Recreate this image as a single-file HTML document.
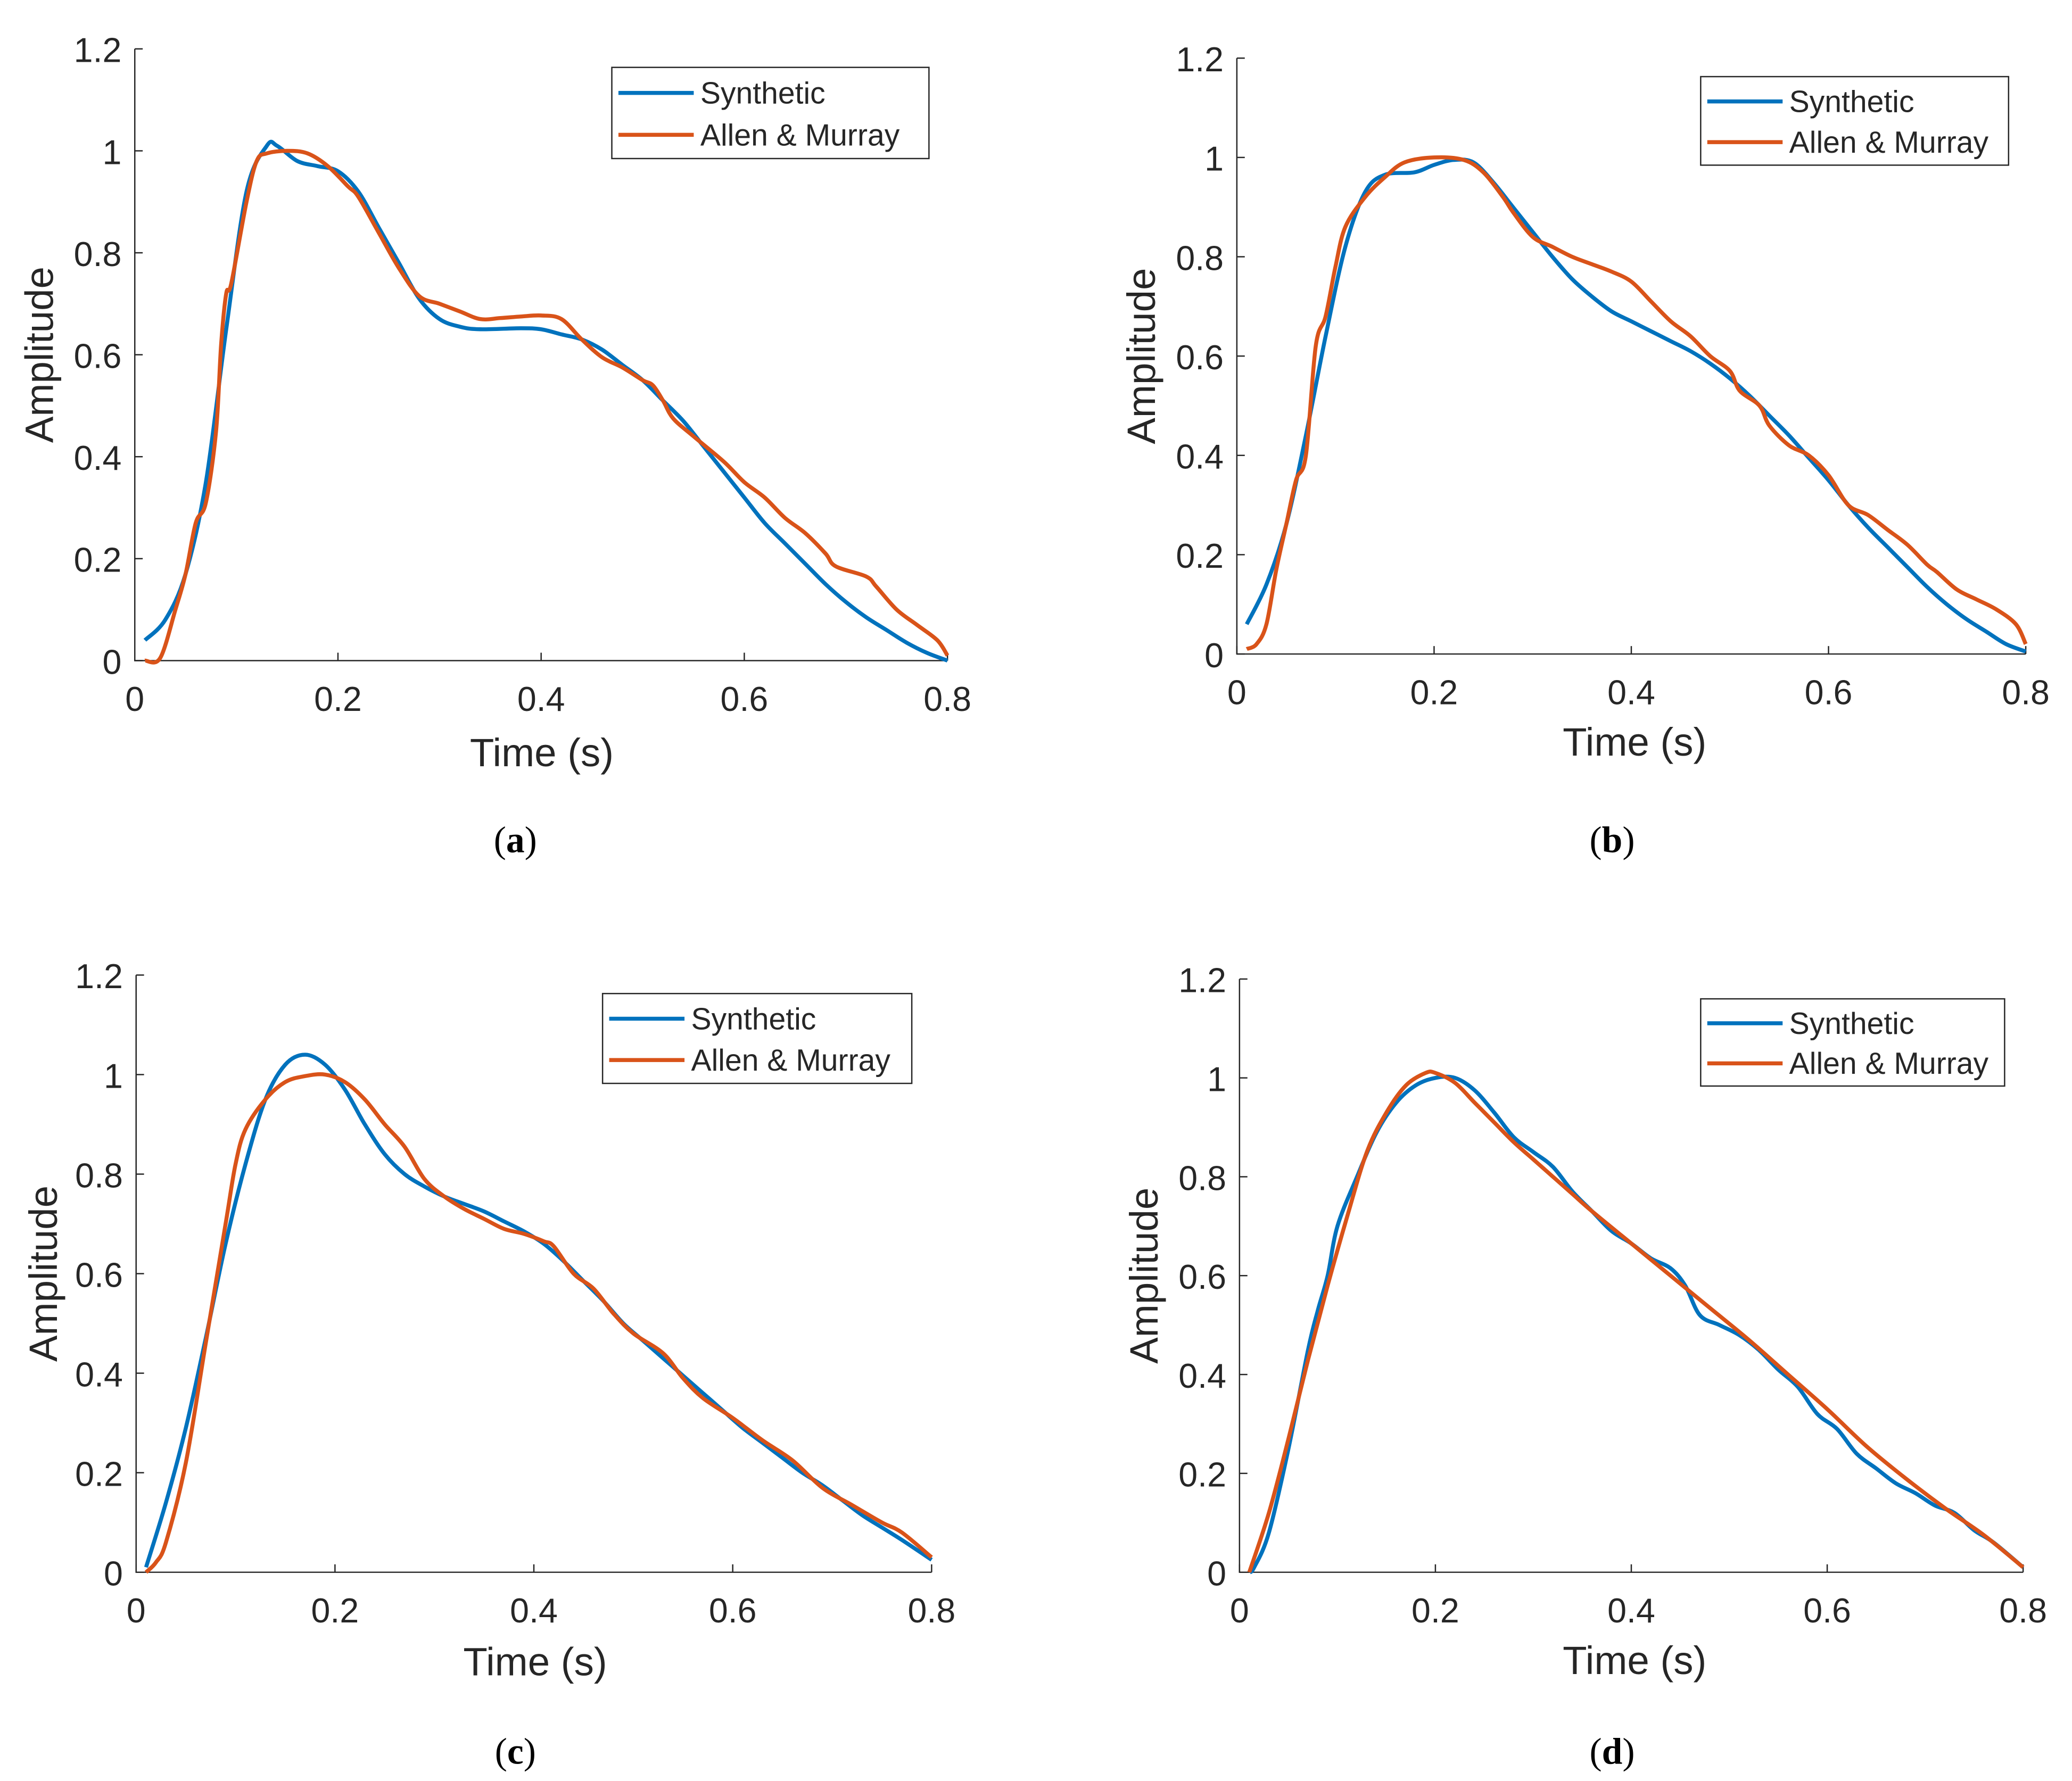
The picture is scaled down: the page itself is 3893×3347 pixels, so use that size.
<!DOCTYPE html>
<html><head><meta charset="utf-8">
<style>
html,body{margin:0;padding:0;background:#fff;}
svg{display:block;}
text{font-family:"Liberation Sans",sans-serif;fill:#262626;}
.cap{font-family:"Liberation Serif",serif;fill:#000;}
</style></head>
<body>
<svg id="fig" width="3893" height="3347" viewBox="0 0 1568 1348" preserveAspectRatio="none" xmlns="http://www.w3.org/2000/svg"></svg>
<script>
const xTicks=[0,0.2,0.4,0.6,0.8];
const xTickLabels=["0","0.2","0.4","0.6","0.8"];
const yTicks=[0,0.2,0.4,0.6,0.8,1,1.2];
const yTickLabels=["0","0.2","0.4","0.6","0.8","1","1.2"];
const seriesNames=["Synthetic","Allen & Murray"];
const panelLabels=["a","b","c","d"];

const aSynX=[0.01,0.03,0.05,0.07,0.09,0.11,0.13,0.14,0.16,0.18,0.2,0.22,0.24,0.26,0.28,0.30,0.32,0.34,0.38,0.40,0.42,0.44,0.46,0.48,0.50,0.52,0.54,0.56,0.58,0.60,0.62,0.64,0.66,0.68,0.70,0.72,0.74,0.76,0.78,0.80];
const aSynY=[0.04,0.08,0.17,0.35,0.65,0.92,1.01,1.01,0.98,0.97,0.96,0.92,0.85,0.78,0.71,0.67,0.655,0.65,0.652,0.65,0.64,0.63,0.61,0.58,0.55,0.51,0.47,0.42,0.37,0.32,0.27,0.23,0.19,0.15,0.115,0.085,0.06,0.035,0.015,0.0];
const aAMX=[0.01,0.025,0.04,0.05,0.06,0.07,0.08,0.085,0.09,0.095,0.11,0.12,0.13,0.15,0.17,0.19,0.21,0.22,0.24,0.26,0.28,0.30,0.32,0.34,0.36,0.38,0.40,0.42,0.44,0.46,0.48,0.50,0.51,0.52,0.53,0.55,0.58,0.60,0.62,0.64,0.66,0.68,0.69,0.72,0.73,0.75,0.77,0.79,0.80];
const aAMY=[0,0.005,0.1,0.17,0.27,0.31,0.45,0.62,0.72,0.74,0.90,0.98,0.995,1.0,0.995,0.97,0.93,0.91,0.84,0.77,0.715,0.70,0.685,0.67,0.672,0.675,0.677,0.67,0.63,0.595,0.575,0.55,0.54,0.51,0.475,0.44,0.39,0.35,0.32,0.28,0.25,0.21,0.185,0.165,0.145,0.1,0.07,0.04,0.01];

const bSynX=[0.01,0.03,0.05,0.07,0.09,0.11,0.13,0.15,0.18,0.20,0.22,0.24,0.26,0.28,0.30,0.32,0.34,0.36,0.38,0.40,0.42,0.44,0.46,0.48,0.50,0.52,0.54,0.56,0.58,0.60,0.62,0.64,0.66,0.68,0.70,0.72,0.74,0.76,0.78,0.80];
const bSynY=[0.06,0.14,0.26,0.44,0.64,0.82,0.93,0.965,0.97,0.985,0.995,0.99,0.95,0.9,0.85,0.8,0.755,0.72,0.69,0.67,0.65,0.63,0.61,0.585,0.555,0.52,0.48,0.44,0.395,0.35,0.3,0.255,0.215,0.175,0.135,0.1,0.07,0.045,0.02,0.005];
const bAMX=[0.01,0.02,0.03,0.04,0.05,0.06,0.07,0.08,0.09,0.10,0.11,0.13,0.15,0.17,0.20,0.23,0.25,0.27,0.28,0.30,0.32,0.34,0.36,0.38,0.40,0.42,0.44,0.46,0.48,0.50,0.51,0.53,0.54,0.56,0.58,0.60,0.62,0.64,0.66,0.68,0.70,0.71,0.73,0.75,0.77,0.79,0.80];
const bAMY=[0.01,0.02,0.06,0.17,0.26,0.35,0.4,0.62,0.68,0.78,0.86,0.92,0.96,0.99,1.0,0.995,0.97,0.92,0.89,0.84,0.82,0.8,0.785,0.77,0.75,0.71,0.67,0.64,0.6,0.57,0.53,0.5,0.46,0.42,0.4,0.36,0.3,0.28,0.25,0.22,0.18,0.165,0.13,0.11,0.09,0.06,0.02];

const cSynX=[0.01,0.03,0.05,0.07,0.09,0.11,0.13,0.15,0.17,0.19,0.21,0.23,0.25,0.27,0.29,0.31,0.33,0.35,0.37,0.39,0.41,0.43,0.45,0.47,0.49,0.51,0.53,0.55,0.57,0.59,0.61,0.63,0.65,0.67,0.69,0.71,0.73,0.75,0.77,0.80];
const cSynY=[0.01,0.14,0.29,0.47,0.66,0.82,0.95,1.02,1.04,1.02,0.97,0.9,0.84,0.80,0.775,0.755,0.74,0.725,0.705,0.685,0.66,0.625,0.585,0.545,0.50,0.465,0.43,0.395,0.36,0.325,0.29,0.26,0.23,0.2,0.175,0.145,0.115,0.09,0.065,0.025];
const cAMX=[0.01,0.02,0.03,0.05,0.07,0.09,0.10,0.11,0.13,0.15,0.17,0.19,0.21,0.23,0.25,0.27,0.29,0.31,0.33,0.35,0.37,0.39,0.41,0.42,0.44,0.46,0.48,0.50,0.53,0.55,0.57,0.60,0.63,0.66,0.69,0.72,0.75,0.77,0.80];
const cAMY=[0.0,0.02,0.06,0.22,0.46,0.7,0.82,0.89,0.95,0.985,0.997,1.0,0.985,0.95,0.9,0.855,0.79,0.755,0.73,0.71,0.69,0.68,0.665,0.655,0.6,0.57,0.52,0.48,0.44,0.39,0.35,0.31,0.265,0.225,0.17,0.135,0.1,0.08,0.03];

const dSynX=[0.01,0.015,0.03,0.05,0.07,0.08,0.09,0.10,0.12,0.14,0.16,0.18,0.20,0.22,0.24,0.26,0.28,0.30,0.32,0.34,0.36,0.38,0.40,0.42,0.44,0.455,0.47,0.49,0.51,0.53,0.55,0.57,0.59,0.61,0.63,0.65,0.67,0.69,0.71,0.73,0.75,0.77,0.80];
const dSynY=[0.0,0.01,0.08,0.25,0.45,0.53,0.6,0.7,0.8,0.89,0.95,0.985,1.0,1.0,0.975,0.93,0.88,0.85,0.82,0.77,0.73,0.69,0.665,0.635,0.615,0.58,0.52,0.5,0.48,0.45,0.41,0.375,0.32,0.29,0.24,0.21,0.18,0.16,0.135,0.12,0.085,0.06,0.01];
const dAMX=[0.01,0.03,0.05,0.07,0.09,0.11,0.13,0.15,0.17,0.19,0.20,0.22,0.24,0.26,0.28,0.30,0.32,0.34,0.36,0.40,0.44,0.48,0.52,0.56,0.60,0.64,0.68,0.72,0.76,0.80];
const dAMY=[0.0,0.12,0.27,0.43,0.58,0.72,0.85,0.93,0.985,1.01,1.01,0.99,0.95,0.91,0.87,0.835,0.8,0.765,0.73,0.665,0.6,0.535,0.47,0.4,0.33,0.255,0.19,0.13,0.075,0.01];

const panels=[
 {id:"a",x0:102,x1:717,y0:500,y1:37,leg:[463,51,703,120],tl:[410,580],cap:[390,645],yl:30,sx:aSynX,sy:aSynY,ax:aAMX,ay:aAMY},
 {id:"b",x0:936,x1:1533,y0:495,y1:44,leg:[1287,58,1520,125],tl:[1237,572],cap:[1220,645],yl:864,sx:bSynX,sy:bSynY,ax:bAMX,ay:bAMY},
 {id:"c",x0:103,x1:705,y0:1190,y1:738,leg:[456,752,690,820],tl:[405,1268],cap:[390,1335],yl:33,sx:cSynX,sy:cSynY,ax:cAMX,ay:cAMY},
 {id:"d",x0:938,x1:1531,y0:1190,y1:741,leg:[1287,756,1517,822],tl:[1237,1267],cap:[1220,1335],yl:866,sx:dSynX,sy:dSynY,ax:dAMX,ay:dAMY}
];
const NS="http://www.w3.org/2000/svg";
const svg=document.getElementById("fig");
function mk(tag,attrs,parent){const e=document.createElementNS(NS,tag);for(const k in attrs)e.setAttribute(k,attrs[k]);(parent||svg).appendChild(e);return e;}
function smooth(pts){
 let d="M"+pts[0][0].toFixed(2)+","+pts[0][1].toFixed(2);
 for(let i=0;i<pts.length-1;i++){
  const p0=pts[Math.max(0,i-1)],p1=pts[i],p2=pts[i+1],p3=pts[Math.min(pts.length-1,i+2)];
  const c1x=p1[0]+(p2[0]-p0[0])/6,c1y=p1[1]+(p2[1]-p0[1])/6;
  const c2x=p2[0]-(p3[0]-p1[0])/6,c2y=p2[1]-(p3[1]-p1[1])/6;
  d+="C"+c1x.toFixed(2)+","+c1y.toFixed(2)+" "+c2x.toFixed(2)+","+c2y.toFixed(2)+" "+p2[0].toFixed(2)+","+p2[1].toFixed(2);
 }
 return d;
}

panels.forEach(p=>{
 const g=mk("g",{});
 
 
 const X=v=>p.x0+(v/0.8)*(p.x1-p.x0);
 const Y=v=>p.y0-(v/1.2)*(p.y0-p.y1);
 const axes=mk("path",{d:`M${p.x0},${p.y1}V${p.y0}H${p.x1}`,fill:"none",stroke:"#262626","stroke-width":1},g);
 
 
 xTicks.forEach((t,i)=>{
  mk("line",{x1:X(t),x2:X(t),y1:p.y0,y2:p.y0-6,stroke:"#262626","stroke-width":1},g);
  const tx=mk("text",{x:X(t),y:p.y0+38,"font-size":26,"text-anchor":"middle"},g);
  tx.textContent=xTickLabels[i];
  
  
 });
 yTicks.forEach((t,i)=>{
  mk("line",{x1:p.x0,x2:p.x0+6,y1:Y(t),y2:Y(t),stroke:"#262626","stroke-width":1},g);
  const tx=mk("text",{x:p.x0-10,y:Y(t)+10,"font-size":26,"text-anchor":"end"},g);
  tx.textContent=yTickLabels[i];
  
  
 });
 const yt=mk("text",{x:0,y:0,"font-size":30,"text-anchor":"middle",transform:`translate(${p.yl+10},${(p.y0+p.y1)/2}) rotate(-90)`},g);
 yt.textContent="Amplitude";
 
 
 const xt=mk("text",{x:p.tl[0],y:p.tl[1],"font-size":30,"text-anchor":"middle"},g);
 xt.textContent="Time (s)";
 
 
 const cp=mk("text",{x:p.cap[0],y:p.cap[1],"font-size":28,"text-anchor":"middle",class:"cap"},g);
 cp.innerHTML='(<tspan font-weight="bold">'+p.id+'</tspan>)';
 
 
 const lineFor=(xs,ys)=>smooth(xs.map((x,i)=>[X(x),Y(ys[i])]));
 const s1=mk("path",{d:lineFor(p.sx,p.sy),fill:"none",stroke:"#0072BD","stroke-width":3,"stroke-linejoin":"round"},g);
 
 
 const s2=mk("path",{d:lineFor(p.ax,p.ay),fill:"none",stroke:"#D95319","stroke-width":3,"stroke-linejoin":"round"},g);
 
 
 const [lx0,ly0,lx1,ly1]=p.leg;
 const lg=mk("g",{},g);
 
 
 mk("rect",{x:lx0,y:ly0,width:lx1-lx0,height:ly1-ly0,fill:"#fff",stroke:"#262626","stroke-width":1},lg);
 const h=(ly1-ly0);
 const colors=["#0072BD","#D95319"];
 seriesNames.forEach((n,i)=>{
  const cy=ly0+h*(0.28+0.46*i);
  mk("line",{x1:lx0+5,x2:lx0+62,y1:cy,y2:cy,stroke:colors[i],"stroke-width":3},lg);
  const t=mk("text",{x:lx0+67,y:cy+8,"font-size":23},lg);
  t.textContent=n;
  
  
 });
});
</script>
</body></html>
